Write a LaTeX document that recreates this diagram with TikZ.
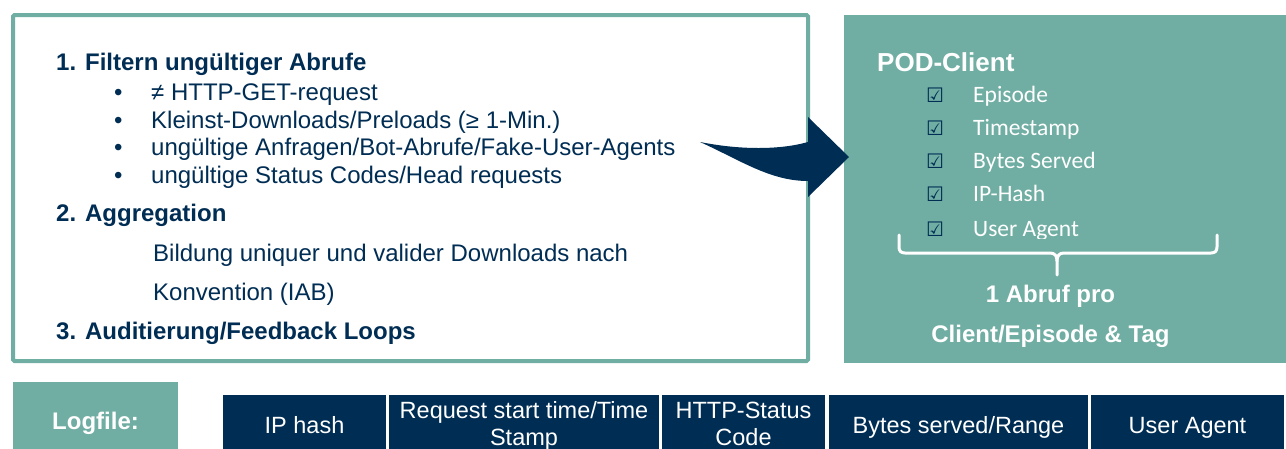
\documentclass[tikz,border=0pt]{standalone}
\usepackage{fontspec}
\setmainfont{Liberation Sans}
\newfontfamily\calfont{Carlito}
\newfontfamily\symfont{DejaVu Sans}
\definecolor{tealbg}{RGB}{112,174,163}
\definecolor{navy}{RGB}{0,45,84}
\begin{document}
\begin{tikzpicture}[x=1pt,y=-1pt,
  txt/.style={inner sep=0pt, anchor=base west, text=navy, font=\fontsize{24}{28}\selectfont},
  hdr/.style={inner sep=0pt, anchor=base west, text=navy, font=\fontsize{24}{28}\selectfont\bfseries},
  wtxt/.style={inner sep=0pt, anchor=base, text=white, font=\fontsize{24}{28}\selectfont\bfseries},
  item/.style={inner sep=0pt, anchor=base west, text=white, font=\fontsize{23.5}{28}\calfont},
  chk/.style={inner sep=0pt, anchor=base west, text=navy, font=\fontsize{20}{22}\symfont},
  cell/.style={fill=navy, draw=none, inner sep=0pt, minimum height=57},
  celltxt/.style={inner sep=0pt, anchor=base, text=white, font=\fontsize{23.5}{27}\selectfont},
  bracestyle/.style={draw=white, line width=3pt, line cap=round, line join=round}
]
\useasboundingbox (0,0) rectangle (1286,448);
\fill[white] (0,0) rectangle (1286,448);

% left box
\node[draw=tealbg, line width=4pt, rounded corners=1.5pt, inner sep=0pt,
      minimum width=795, minimum height=346] (filterbox) at (410.5,188) {};
\node[hdr] (h1) at (56,70) {1. Filtern ungültiger Abrufe};
\node[txt] (b1) at (114,100) {•};
\node[txt] (t1) at (151,100) {≠ HTTP-GET-request};
\node[txt] (b2) at (114,128) {•};
\node[txt] (t2) at (151,128) {Kleinst-Downloads/Preloads (≥ 1-Min.)};
\node[txt] (b3) at (114,155.5) {•};
\node[txt] (t3) at (151,155.5) {ungültige Anfragen/Bot-Abrufe/Fake-User-Agents};
\node[txt] (b4) at (114,183) {•};
\node[txt] (t4) at (151,183) {ungültige Status Codes/Head requests};
\node[hdr] (h2) at (56,221) {2. Aggregation};
\node[txt] (a1) at (153,261) {Bildung uniquer und valider Downloads nach};
\node[txt] (a2) at (153,300) {Konvention (IAB)};
\node[hdr] (h3) at (56,339) {3. Auditierung/Feedback Loops};

% right box
\node[fill=tealbg, inner sep=0pt, minimum width=442, minimum height=348] (podbox) at (1065,189) {};
\node[inner sep=0pt, anchor=base west, text=white, font=\fontsize{26}{30}\selectfont\bfseries] (pod) at (877,71) {POD-Client};
\foreach \y/\t [count=\i] in {102/Episode,135/Timestamp,168/Bytes Served,201/IP-Hash,236/User Agent}{
  \node[chk] (c\i) at (926,\y) {☑};
  \node[item] (i\i) at (973,\y) {\t};
}
\fill[tealbg] (960,238.5) rectangle (1120,250);
\draw[bracestyle] (899,235) -- (899,247) .. controls (899,251) and (901,253) .. (905,253)
  -- (1050,253) .. controls (1055,253) and (1057,256) .. (1057,261) -- (1057,275);
\draw[bracestyle] (1217,235) -- (1217,247) .. controls (1217,251) and (1215,253) .. (1211,253)
  -- (1064,253) .. controls (1059,253) and (1057,256) .. (1057,261);
\node[wtxt] (r1) at (1050.5,302) {1 Abruf pro};
\node[wtxt] (r2) at (1050.5,342) {Client/Episode \& Tag};

% arrow
\fill[navy] (700,142) .. controls (740,150) and (780,150) .. (808,142) -- (808,117) -- (849,157)
  -- (808,197) -- (808,181) .. controls (770,181) and (740,160) .. (700,142) -- cycle;

% bottom row
\node[fill=tealbg, inner sep=0pt, minimum width=165, minimum height=70] (logfile) at (95.5,417) {};
\node[wtxt] (logtxt) at (95.5,429) {Logfile:};
\node[cell, minimum width=163] (ip) at (304.5,423.5) {};
\node[cell, minimum width=270] (req) at (524,423.5) {};
\node[cell, minimum width=163] (http) at (743.5,423.5) {};
\node[cell, minimum width=259] (bytes) at (958.5,423.5) {};
\node[cell, minimum width=193] (ua) at (1187.5,423.5) {};
\node[celltxt] at (304.5,433) {IP hash};
\node[celltxt] at (524,418) {Request start time/Time};
\node[celltxt] at (524,445) {Stamp};
\node[celltxt] at (743.5,418) {HTTP-Status};
\node[celltxt] at (743.5,445) {Code};
\node[celltxt] at (958.5,433) {Bytes served/Range};
\node[celltxt] at (1187.5,433) {User Agent};
\end{tikzpicture}
\end{document}
